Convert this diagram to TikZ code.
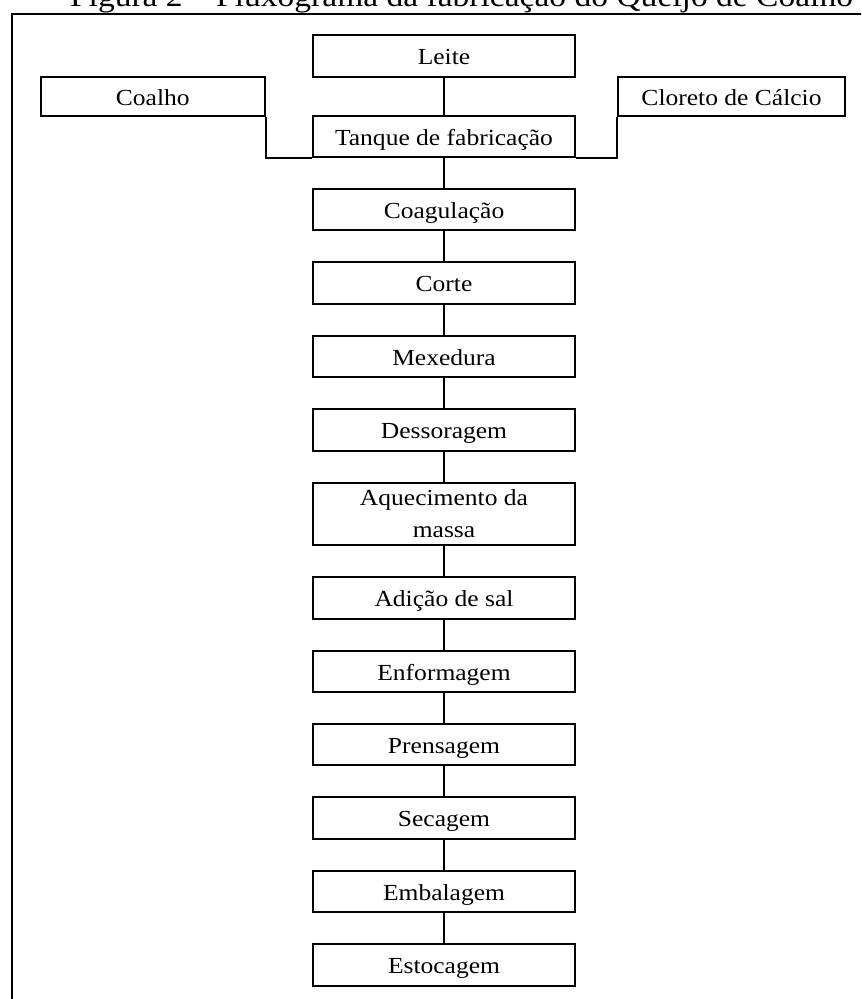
\documentclass[tikz,border=0pt]{standalone}
\usepackage{fontspec}
\setmainfont{Liberation Serif}[FakeStretch=1.11]
\tikzset{
	caixa/.style={draw, line width=1pt, minimum width=131pt, minimum height=20.75pt, inner sep=0pt},
	passo/.style={caixa, text height=8.6pt, text depth=0pt},
	lateral/.style={passo, minimum height=19.5pt}
}
\begin{document}
\begin{tikzpicture}[x=0.5pt, y=-0.5pt, line width=1pt, font=\fontsize{11.5}{16}\selectfont]
		\useasboundingbox (0,0) rectangle (861,999);
		\clip (0,0) rectangle (861,999);
		\node[anchor=base, font=\fontsize{15.1}{18}\selectfont] (titulo) at (461.5,6.5) {Figura 2 – Fluxograma da fabricação do Queijo de Coalho};
		\draw (880,14) -- (12,14) -- (12,1010);
		% entradas
		\node[passo] (leite) at (444,56) {Leite};
		\node[lateral, minimum width=112.2pt] (coalho) at (152.8,96.5) {Coalho};
		\node[lateral, minimum width=113.5pt] (cloreto) at (731.5,96.5) {Cloreto de Cálcio};
		\node[passo] (tanque) at (444,136.5) {Tanque de fabricação};
		% etapas
		\node[passo] (coagulacao) at (444,209.5) {Coagulação};
		\node[passo] (corte) at (444,283) {Corte};
		\node[passo] (mexedura) at (444,356.5) {Mexedura};
		\node[passo] (dessoragem) at (444,430) {Dessoragem};
		\node[caixa, minimum height=31pt, align=center] (aquecimento) at (444,514) {Aquecimento da\\massa};
		\node[passo] (adicao) at (444,598) {Adição de sal};
		\node[passo] (enformagem) at (444,671.5) {Enformagem};
		\node[passo] (prensagem) at (444,744.5) {Prensagem};
		\node[passo] (secagem) at (444,818) {Secagem};
		\node[passo] (embalagem) at (444,891.5) {Embalagem};
		\node[passo] (estocagem) at (444,965) {Estocagem};
		\draw (leite) -- (tanque);
		\draw (coalho.south east) |- (tanque.south west);
		\draw (cloreto.south west) |- (tanque.south east);
		\foreach \a/\b in {tanque/coagulacao, coagulacao/corte, corte/mexedura, mexedura/dessoragem, dessoragem/aquecimento, aquecimento/adicao, adicao/enformagem, enformagem/prensagem, prensagem/secagem, secagem/embalagem, embalagem/estocagem}
			\draw (\a) -- (\b);
\end{tikzpicture}
\end{document}
